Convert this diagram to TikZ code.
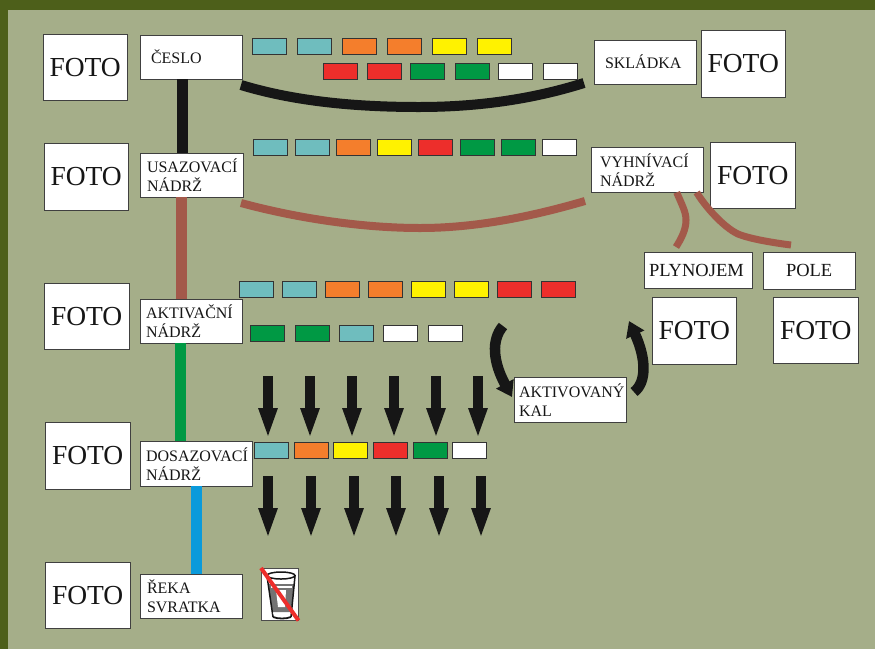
\documentclass[tikz,border=0pt]{standalone}
\usepackage{fontspec}
\setmainfont{Liberation Serif}
\usetikzlibrary{arrows.meta}
\definecolor{bgc}{HTML}{A5AE89}
\definecolor{edgec}{HTML}{4D5F1A}
\definecolor{tl}{HTML}{6FBDBE}
\definecolor{or}{HTML}{F47E2C}
\definecolor{ye}{HTML}{FFF200}
\definecolor{re}{HTML}{ED2E2B}
\definecolor{gr}{HTML}{009944}
\definecolor{wh}{HTML}{FFFFFF}
\definecolor{brownc}{HTML}{A3594A}
\definecolor{bluec}{HTML}{0A9ADB}
\definecolor{inkc}{HTML}{161616}
\tikzset{
  x=1pt,y=-1pt,
  boxbase/.style={draw=black!75,line width=0.9pt,fill=white,inner sep=0pt,outer sep=0pt,text=inkc},
  fotobox/.style={boxbase,font=\fontsize{27.5}{30}\selectfont,align=center},
  labbox/.style={boxbase,font=\fontsize{16}{19}\selectfont,align=left},
  biglab/.style={font=\fontsize{18.5}{19}\selectfont},
  chipbox/.style={draw=black!80,line width=0.7pt,inner sep=0pt,outer sep=0pt,minimum width=34.5pt,minimum height=16.5pt},
  pipe/.style={line width=#1,line cap=butt},
  dropa/.style={draw=inkc,line width=9.5pt,-{Triangle[width=17pt,length=31pt]}},
  swing/.style={draw=inkc,line width=10.5pt,-{Triangle[width=19pt,length=15pt]}},
}
\newcommand{\foto}[5]{\pgfmathsetmacro\bw{#4-#2-0.6}\pgfmathsetmacro\bh{#5-#3-0.6}%
  \node[fotobox,anchor=north west,minimum width=\bw pt,minimum height=\bh pt] (#1) at (#2,#3) {FOTO};}
\newcommand{\lab}[8][]{\pgfmathsetmacro\bw{#5-#3-0.6}\pgfmathsetmacro\bh{#6-#4-0.6}%
  \node[labbox,#1,anchor=north west,minimum width=\bw pt,minimum height=\bh pt,text width=\bw pt] (#2) at (#3,#4) {\hspace*{#7pt}#8};}
\newcommand{\chips}[3]{\foreach \cx/\cc [count=\ci] in {#3}{\node[chipbox,fill=\cc,anchor=north west] (#1\ci) at (\cx,#2) {};}}
\begin{document}
\begin{tikzpicture}
\useasboundingbox (0,0) rectangle (875,649);
\fill[bgc] (0,0) rectangle (875,649);
\fill[edgec] (0,0) rectangle (875,10);
\fill[edgec] (0,0) rectangle (8,649);

\foto{fa}{43}{34}{128}{101}
\foto{fb}{44}{143}{129}{211}
\foto{fc}{44}{283}{130}{350}
\foto{fd}{45}{422}{131}{490}
\foto{fe}{45}{562}{131}{629}
\foto{ff}{701}{30}{786}{98}
\foto{fg}{710}{142}{796}{209}
\foto{fh}{652}{297}{737}{365}
\foto{fi}{773}{297}{859}{364}

\lab{ces}{140}{35}{243}{80}{11}{ČESLO}
\lab{usa}{140}{153}{244}{198}{7}{USAZOVACÍ\\\hspace*{7pt}NÁDRŽ}
\lab{akt}{140}{299}{243}{344}{6}{AKTIVAČNÍ\\\hspace*{6pt}NÁDRŽ}
\lab{dos}{140}{441}{253}{487}{6}{DOSAZOVACÍ\\\hspace*{6pt}NÁDRŽ}
\lab{rek}{140}{574}{243}{619}{7}{ŘEKA\\\hspace*{7pt}SVRATKA}
\lab{skl}{594}{40}{697}{85}{11}{SKLÁDKA}
\lab{vyh}{591}{147}{704}{193}{9}{VYHNÍVACÍ\\\hspace*{9pt}NÁDRŽ}
\lab[biglab]{ply}{644}{252}{753}{289}{5}{PLYNOJEM}
\lab[biglab]{pol}{763}{252}{856}{290}{23}{POLE}
\lab{kal}{514}{377}{627}{423}{5}{AKTIVOVANÝ\\\hspace*{5pt}KAL}

% vertical pipes between the stages
\draw[pipe=11pt,inkc] ([xshift=-8.5pt]ces.south) -- ([xshift=-9pt]usa.north);
\draw[pipe=11pt,brownc] ([xshift=-10pt]usa.south) -- ([xshift=-9.5pt]akt.north);
\draw[pipe=11pt,gr] ([xshift=-10.5pt]akt.south) -- ([xshift=-15.5pt]dos.north);
\draw[pipe=11pt,bluec] ([xshift=0.5pt]dos.south) -- ([xshift=5.5pt]rek.north);

% sludge lines
\draw[pipe=10pt,inkc] (241,85) .. controls (300,103) and (365,107) .. (419,107) .. controls (475,107) and (530,100) .. (584,83);
\draw[pipe=8pt,brownc] (241,203) .. controls (300,219) and (365,228) .. (420,228) .. controls (475,228) and (530,217) .. (585,201);
\draw[pipe=7pt,brownc] ([xshift=29.5pt]vyh.south) .. controls (682,205) and (686,212) .. (686,220) .. controls (686,230) and (681,239) .. (676,247);
\draw[pipe=7pt,brownc] ([xshift=49.5pt]vyh.south) .. controls (704,205) and (723,227) .. (738,234) .. controls (750,239) and (775,243) .. (791,245);

% chips
\chips{ra}{38}{252/tl,297/tl,342/or,387/or,432/ye,477/ye}
\chips{rb}{63}{323/re,367/re,410/gr,455/gr,498/wh,543/wh}
\chips{rc}{139}{253/tl,295/tl,336/or,377/ye,418/re,460/gr,501/gr,542/wh}
\chips{rd}{281}{239/tl,282/tl,325/or,368/or,411/ye,454/ye,497/re,541/re}
\chips{re}{325}{250/gr,295/gr,339/tl,383/wh,428/wh}
\chips{rf}{442}{254/tl,294/or,333/ye,373/re,413/gr,452/wh}

% down arrows
\foreach \ax/\bx [count=\i] in {268/268,310/311,352/354,394/396,436/439,478/481}{
  \coordinate (ua\i) at (\ax,376); \coordinate (ub\i) at (\ax,439);
  \coordinate (la\i) at (\bx,476); \coordinate (lb\i) at (\bx,539);
  \draw[dropa] (ua\i) -- (ub\i);
  \draw[dropa] (la\i) -- (lb\i);
}

% curved arrows
\coordinate (sa) at (503,326);
\coordinate (sb) at (512,397);
\coordinate (sc) at (634,392);
\coordinate (sd) at (629,321);
\draw[swing] (sa) .. controls (491,340) and (493,362) .. (sb);
\draw[swing] (sc) .. controls (647,382) and (646,358) .. (sd);

% glass
\node[draw=black!70,line width=0.8pt,fill=white,inner sep=0pt,outer sep=0pt,minimum width=37.5pt,minimum height=52.5pt,anchor=north west] (gl) at (261,568) {};
\fill[black!55] (268,584) -- (294,584) -- (291,612) -- (272,612) -- cycle;
\fill[white] (276,590) -- (286,590) -- (285,607) -- (278,607) -- cycle;
\fill[white] (271,586) -- (292,586) -- (292,588) -- (271,588) -- cycle;
\draw[inkc,line width=1.5pt] (267,576) -- (273,617) (295,576) -- (291,617);
\draw[inkc,line width=1.5pt,fill=white] (281,575.5) ellipse [x radius=14,y radius=3.5];
\draw[inkc,line width=1.8pt] (273,617) .. controls (278,619) and (286,619) .. (291,617);
\draw[white,line width=1pt] (273,613) .. controls (278,615) and (286,615) .. (290,613);
\draw[re,line width=4pt] (gl.north west) -- (gl.south east);
\end{tikzpicture}
\end{document}
